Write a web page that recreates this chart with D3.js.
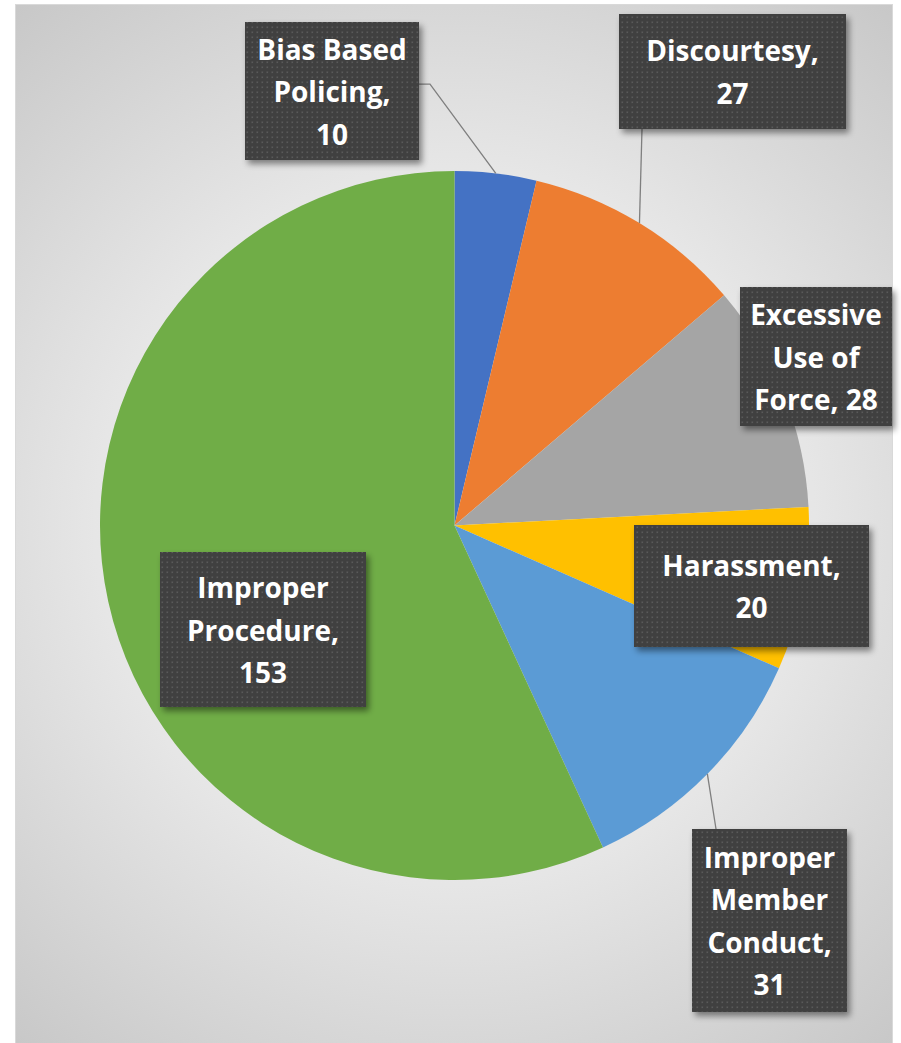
<!DOCTYPE html>
<html>
<head>
<meta charset="utf-8">
<script src="https://cdn.jsdelivr.net/npm/d3@7"></script>
<style>
  body { margin: 0; background: #fff; }
  svg { display: block; }
</style>
</head>
<body>
<div id="chart"></div>
<script>
// complaint categories and counts
const categories = ['Bias Based Policing', 'Discourtesy', 'Excessive Use of Force', 'Harassment', 'Improper Member Conduct', 'Improper Procedure'];
const counts = [10, 27, 28, 20, 31, 153];
const colors = ['#4472C4', '#ED7D31', '#A5A5A5', '#FFC000', '#5B9BD5', '#70AD47'];
// how each data label is wrapped ({v} = value)
const labelLines = [
  ['Bias Based', 'Policing,', '{v}'],
  ['Discourtesy,', '{v}'],
  ['Excessive', 'Use of', 'Force, {v}'],
  ['Harassment,', '{v}'],
  ['Improper', 'Member', 'Conduct,', '{v}'],
  ['Improper', 'Procedure,', '{v}']
];

// layout of the label boxes (Excel places them by hand)
const boxes = [
  {x: 245, y: 22, w: 174, h: 138, leader: 'right'},
  {x: 619, y: 14, w: 227, h: 115, leader: 'bottom'},
  {x: 740, y: 287, w: 152, h: 139, leader: null},
  {x: 634, y: 525, w: 235, h: 122, leader: null},
  {x: 692, y: 829, w: 155, h: 183, leader: 'top'},
  {x: 160, y: 552, w: 206, h: 155, leader: null}
];

const W = 901, H = 1043;
const cx = 454.5, cy = 525.5, R = 354.5;
const lineH = 42.5;

const data = categories.map((c, i) => ({name: c, value: counts[i], color: colors[i], lines: labelLines[i], box: boxes[i]}));

const svg = d3.select('#chart').append('svg').attr('width', W).attr('height', H);
const defs = svg.append('defs');

const bg = defs.append('radialGradient').attr('id', 'bg')
  .attr('gradientUnits', 'userSpaceOnUse')
  .attr('cx', cx).attr('cy', cy).attr('r', 720);
bg.append('stop').attr('offset', '0%').attr('stop-color', '#f6f6f6');
bg.append('stop').attr('offset', '50%').attr('stop-color', '#e6e6e6');
bg.append('stop').attr('offset', '100%').attr('stop-color', '#c4c4c4');

const pat = defs.append('pattern').attr('id', 'dots')
  .attr('patternUnits', 'userSpaceOnUse').attr('width', 5).attr('height', 5);
pat.append('rect').attr('width', 5).attr('height', 5).attr('fill', '#404040');
pat.append('rect').attr('x', 1.5).attr('y', 1.5).attr('width', 1.6).attr('height', 1.6).attr('fill', '#5a5a5a');

const shadow = defs.append('filter').attr('id', 'shadow')
  .attr('x', '-10%').attr('y', '-10%').attr('width', '130%').attr('height', '130%');
shadow.append('feDropShadow').attr('dx', 3).attr('dy', 4).attr('stdDeviation', 3)
  .attr('flood-color', '#000').attr('flood-opacity', 0.45);

// chart area
svg.append('rect').attr('x', 15.5).attr('y', 4.5).attr('width', 877).attr('height', H)
  .attr('fill', 'url(#bg)').attr('stroke', '#d9d9d9').attr('stroke-width', 1);

const pie = d3.pie().sort(null).value(d => d.value);
const arc = d3.arc().innerRadius(0).outerRadius(R);
const arcs = pie(data);

const g = svg.append('g').attr('transform', `translate(${cx},${cy})`);
g.selectAll('path.slice').data(arcs).join('path')
  .attr('class', 'slice')
  .attr('d', arc)
  .attr('fill', d => d.data.color);

// leader lines
const edgePt = d => {
  const a = (d.startAngle + d.endAngle) / 2;
  return [cx + R * Math.sin(a), cy - R * Math.cos(a)];
};
arcs.forEach(d => {
  const b = d.data.box;
  if (!b.leader) return;
  const p = edgePt(d);
  let pts;
  if (b.leader === 'right') {
    const y = b.y + b.h * 0.45;
    pts = [[b.x + b.w, y], [b.x + b.w + 11, y], p];
  } else if (b.leader === 'bottom') {
    pts = [[b.x + 23, b.y + b.h], p];
  } else {
    pts = [[b.x + 24, b.y], p];
  }
  svg.append('path').attr('d', d3.line()(pts))
    .attr('fill', 'none').attr('stroke', '#7f7f7f').attr('stroke-width', 1.3);
});

// label boxes
const lab = svg.selectAll('g.lab').data(arcs).join('g').attr('class', 'lab');
lab.append('rect')
  .attr('x', d => d.data.box.x).attr('y', d => d.data.box.y)
  .attr('width', d => d.data.box.w).attr('height', d => d.data.box.h)
  .attr('fill', 'url(#dots)').attr('filter', 'url(#shadow)');
lab.each(function(d) {
  const b = d.data.box;
  const lines = d.data.lines.map(s => s.replace('{v}', d.data.value));
  const midY = b.y + b.h / 2;
  const first = midY - (lines.length - 1) * lineH / 2;
  const t = d3.select(this).append('text')
    .attr('text-anchor', 'middle')
    .attr('font-family', '"Open Sans", Lato, sans-serif')
    .attr('font-weight', 'bold')
    .attr('font-size', 28)
    .attr('fill', '#fff');
  lines.forEach((s, i) => {
    t.append('tspan').attr('x', b.x + b.w / 2).attr('y', first + i * lineH + 11).text(s);
  });
});
</script>
</body>
</html>
